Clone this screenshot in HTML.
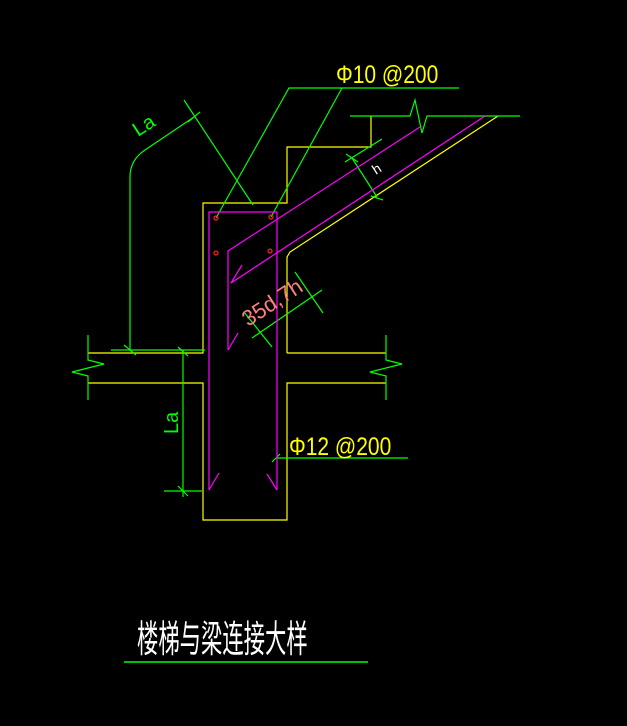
<!DOCTYPE html>
<html><head><meta charset="utf-8"><style>
html,body{margin:0;padding:0;background:#000;width:627px;height:726px;overflow:hidden}
svg{display:block}
text{font-family:"Liberation Sans","Noto Sans CJK SC",sans-serif}
</style></head><body>
<svg width="627" height="726" viewBox="0 0 627 726" xmlns="http://www.w3.org/2000/svg">
<g fill="none" stroke-width="1.2">
<g stroke="#ffff00">
<polyline points="88,353 203,353 203,203 287,203 287,147 371,147 371,116"/>
<polyline points="287,353 287,257 290,252 498,116"/>
<line x1="287" y1="353" x2="386" y2="353"/>
<polyline points="88,383 203,383 203,520 287,520 287,383 386,383"/>
</g>
<g stroke="#00ff00">
<polyline points="350,116 410,116 415,100 422,133 427,116 520,116"/>
<polyline points="88,335 88,360 104,364 72,372 88,376 88,400"/>
<polyline points="386,335 386,360 402,364 370,372 386,376 386,400"/>
<path d="M130,350 L130,177 Q130,160 145,150 L194,117"/>
<line x1="184" y1="100" x2="253" y2="205"/>
<line x1="188" y1="122" x2="200" y2="112"/>
<line x1="111" y1="350" x2="205" y2="350"/>
<line x1="124" y1="345" x2="136" y2="355"/>
<polyline points="459,88 289,88 216,218"/>
<line x1="342" y1="88" x2="271" y2="217"/>
<line x1="345" y1="162" x2="382" y2="139"/>
<line x1="352" y1="158" x2="377" y2="197"/>
<line x1="346" y1="154" x2="358" y2="162"/>
<line x1="371" y1="196" x2="383" y2="200"/>
<line x1="252" y1="338" x2="322" y2="290"/>
<line x1="244" y1="312" x2="272" y2="347"/>
<line x1="295" y1="272" x2="323" y2="313"/>
<line x1="183" y1="350" x2="183" y2="497"/>
<line x1="164" y1="491" x2="202" y2="491"/>
<line x1="178" y1="486" x2="188" y2="496"/>
<line x1="178" y1="347" x2="188" y2="356"/>
<line x1="276" y1="458" x2="408" y2="458"/>
<line x1="272" y1="462" x2="280" y2="454"/>
<line x1="124" y1="662" x2="368" y2="662" stroke-width="1.5"/>
</g>
<g stroke="#ff00ff">
<polyline points="209,490 209,212 277,212 277,490"/>
<line x1="209" y1="490" x2="219" y2="473"/>
<line x1="277" y1="490" x2="267" y2="474"/>
<polyline points="228,350 228,251 420,127"/>
<line x1="228" y1="350" x2="238" y2="333"/>
<line x1="231" y1="283" x2="485" y2="116"/>
<line x1="231" y1="283" x2="242" y2="265"/>
</g>
<g stroke="#ff2020">
<circle cx="216" cy="218" r="2"/><circle cx="271" cy="217" r="2"/>
<circle cx="216" cy="253" r="2"/><circle cx="270" cy="251" r="2"/>
</g>
</g>
<g font-size="20">
<text x="336" y="83" fill="#ffff00" transform="translate(336,83) scale(1.05,1.25) translate(-336,-83)">Φ10 @200</text>
<text x="289" y="455" fill="#ffff00" transform="translate(289,455) scale(1.05,1.25) translate(-289,-455)">Φ12 @200</text>
<text x="0" y="0" fill="#00ff00" font-size="20" transform="translate(138,137) rotate(-33)">La</text>
<text x="0" y="0" fill="#00ff00" font-size="20" transform="translate(178,434) rotate(-90)">La</text>
<text x="0" y="0" fill="#ffffff" font-size="14" transform="translate(376,175) rotate(-33)">h</text>
<text x="0" y="0" fill="#ff8080" font-size="22" transform="translate(248,327) rotate(-33)">35d,7h</text>
</g>
<text x="137" y="652" fill="#ffffff" font-size="22" transform="translate(137,652) scale(0.97,1.7) translate(-137,-652)">楼梯与梁连接大样</text>
</svg>
</body></html>
